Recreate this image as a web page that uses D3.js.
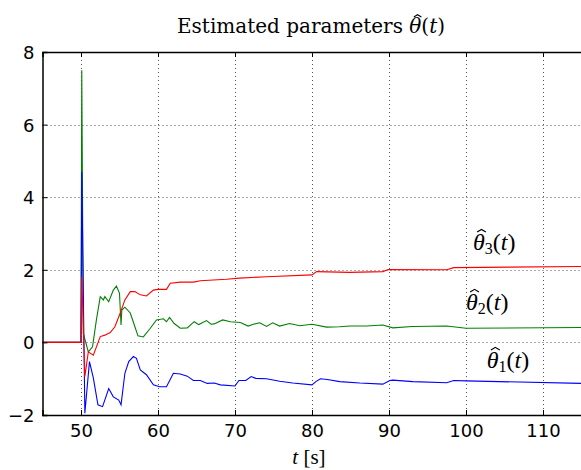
<!DOCTYPE html>
<html><head><meta charset="utf-8">
<script src="https://cdn.jsdelivr.net/npm/d3@7"></script>
<style>body{margin:0;background:#fff;}svg{display:block;}</style>
</head><body>
<script>
// ---- data ----
const xTicks = [50, 60, 70, 80, 90, 100, 110];
const yTicks = [-2, 0, 2, 4, 6, 8];

const t1 = [45,50,50.1,50.5,51.1,51.6,52.2,52.8,53.6,54.2,54.9,55.2,55.7,56.2,56.8,57.2,57.7,58.5,59.4,60.2,61.1,62,62.9,63.8,64.6,65.5,66.4,67.3,68.1,70,70.5,71.4,72.1,72.7,74.1,75.8,77.5,80,80.5,81.1,82,83.6,86.2,89.2,90.1,90.5,93.1,97.5,98.4,100,115];
const theta1 = [0,0,4.7,-1.95,-0.53,-0.98,-1.72,-1.77,-1.27,-1.5,-1.59,-1.72,-0.85,-0.53,-0.39,-0.44,-0.76,-0.89,-1.17,-1.22,-1.22,-0.85,-0.87,-0.93,-1.05,-1.05,-1.13,-1.12,-1.17,-1.2,-1.05,-1.05,-0.94,-0.99,-1.0,-1.07,-1.12,-1.17,-1.08,-1.0,-1.02,-1.08,-1.12,-1.15,-1.05,-1.04,-1.08,-1.11,-1.05,-1.06,-1.13];

const t2 = [45,50,50.1,50.3,50.95,51.5,52,52.5,52.9,53.1,53.6,54.2,54.6,55,55.2,55.3,55.7,56.4,57,57.4,58.1,59,59.8,60.7,61.1,61.5,62.1,62.9,63.8,64.7,65.3,66.3,66.9,67.3,68.4,69.4,70.7,71.7,72.4,73.2,74.1,74.9,75.8,77.1,78.4,80,81.9,83.6,84.9,87.1,89.2,90.5,93,97.5,100,115];
const theta2 = [0,0,7.5,0.25,-0.26,-0.12,0.62,1.26,1.17,1.26,1.12,1.44,1.55,1.35,0.48,0.89,0.97,0.81,0.43,0.18,0.15,0.39,0.62,0.65,0.57,0.69,0.52,0.39,0.4,0.57,0.49,0.6,0.5,0.51,0.62,0.57,0.55,0.45,0.5,0.54,0.44,0.54,0.45,0.52,0.46,0.5,0.42,0.43,0.45,0.45,0.48,0.4,0.44,0.45,0.39,0.41];

const t3 = [45,50,50.1,50.5,50.95,51.6,52.5,53.1,53.8,54.4,55.1,55.7,56.4,57,57.7,58.5,59.4,60,61.1,61.6,62.9,64.6,65.5,67.2,68.9,70.6,74.1,80,80.6,84.9,89.2,89.9,97.5,98.4,115];
const theta3 = [0,0,1.81,-0.94,-0.26,-0.35,0.16,0.2,0.27,0.43,0.81,1.17,1.4,1.4,1.31,1.28,1.44,1.46,1.46,1.63,1.66,1.66,1.7,1.72,1.74,1.77,1.81,1.86,1.95,1.93,1.95,2.01,2.0,2.06,2.09];

const labelSubs = ["3", "2", "1"];
const labelT = [100.9, 100.0, 102.7];
const labelV = [2.545, 0.893, -0.705];

// ---- layout ----
const W = 581, H = 470;
const L = 42.5, R = 581.5, T = 52, B = 415;

const svg = d3.select("body").append("svg").attr("width", W).attr("height", H);

const x = d3.scaleLinear().domain([45, 115]).range([L, R]);
const y = d3.scaleLinear().domain([-2, 8]).range([B, T]);

// grid
const grid = svg.append("g");
grid.selectAll(".gx").data(xTicks).enter().append("line")
  .attr("x1", d => Math.round(x(d)) + 0.5).attr("x2", d => Math.round(x(d)) + 0.5)
  .attr("y1", T).attr("y2", B)
  .attr("stroke", "#555").attr("stroke-width", 1).attr("stroke-dasharray", "1,3");
grid.selectAll(".gy").data(yTicks).enter().append("line")
  .attr("y1", d => Math.round(y(d)) + 0.5).attr("y2", d => Math.round(y(d)) + 0.5)
  .attr("x1", L).attr("x2", R)
  .attr("stroke", "#555").attr("stroke-width", 1).attr("stroke-dasharray", "1,3");

// lines
const line = d3.line().x(d => x(d[0])).y(d => y(d[1]));
const series = [
  {t: t2, v: theta2, c: "#008000"},
  {t: t1, v: theta1, c: "#0000ff"},
  {t: t3, v: theta3, c: "#ff0000"}
];
svg.append("defs").append("clipPath").attr("id", "clip")
  .append("rect").attr("x", L).attr("y", T).attr("width", R - L).attr("height", B - T);
const lg = svg.append("g").attr("clip-path", "url(#clip)");
series.forEach(s => {
  lg.append("path").datum(s.t.map((tt, i) => [tt, s.v[i]]))
    .attr("d", line).attr("fill", "none").attr("stroke", s.c).attr("stroke-width", 1.1);
});

// axes (ticks inward)
const fmt = d => d < 0 ? "\u2212" + Math.abs(d) : String(d);
const xAxis = svg.append("g").attr("transform", `translate(0,${B})`)
  .call(d3.axisBottom(x).tickValues(xTicks).tickSize(-5).tickPadding(9).tickFormat(fmt));
const xAxisTop = svg.append("g").attr("transform", `translate(0,${T})`)
  .call(d3.axisTop(x).tickValues(xTicks).tickSize(-5).tickFormat(""));
const yAxis = svg.append("g").attr("transform", `translate(${L},0)`)
  .call(d3.axisLeft(y).tickValues(yTicks).tickSize(-5).tickPadding(8).tickFormat(fmt));
[xAxis, xAxisTop, yAxis].forEach(a => {
  a.select(".domain").attr("stroke", "#000").attr("stroke-width", 1.5);
  a.selectAll(".tick line").attr("stroke", "#000").attr("stroke-width", 1);
  a.selectAll(".tick text").attr("font-family", "'DejaVu Sans', sans-serif")
    .attr("font-size", 18).attr("fill", "#000");
});
yAxis.selectAll(".tick text").attr("dy", "0.36em");

// helper: hat over a character of a text element
function addHat(textSel, charIndex, lift, size) {
  const node = textSel.node();
  const s = node.getStartPositionOfChar(charIndex);
  const e = node.getEndPositionOfChar(charIndex);
  const cx = (s.x + e.x) / 2 + size * 0.12;
  const top = s.y - lift;
  const hw = size * 0.2, hh = size * 0.12;
  svg.append("path")
    .attr("d", `M${cx - hw},${top} L${cx},${top - hh} L${cx + hw},${top}`)
    .attr("fill", "none").attr("stroke", "#000").attr("stroke-width", size * 0.055);
}

// title
const titleFont = "'DejaVu Serif', serif";
const serif = "'Liberation Serif', 'DejaVu Serif', serif";
const title = svg.append("text").attr("x", 311).attr("y", 33).attr("text-anchor", "middle")
  .attr("font-family", titleFont).attr("font-size", 20).attr("fill", "#000");
title.append("tspan").text("Estimated parameters ");
title.append("tspan").attr("font-style", "italic").text("θ");
title.append("tspan").text("(");
title.append("tspan").attr("font-style", "italic").text("t");
title.append("tspan").text(")");
addHat(title, 21, 16, 19);

// x label
const xl = svg.append("text").attr("x", 309).attr("y", 464).attr("text-anchor", "middle")
  .attr("font-family", serif).attr("font-size", 21).attr("fill", "#000");
xl.append("tspan").attr("font-style", "italic").text("t");
xl.append("tspan").text(" [s]");

// series labels
labelSubs.forEach((sub, i) => {
  const tx = svg.append("text").attr("x", x(labelT[i])).attr("y", y(labelV[i]))
    .attr("font-family", serif).attr("font-size", 24).attr("fill", "#000");
  tx.append("tspan").attr("font-style", "italic").text("θ");
  tx.append("tspan").attr("font-size", 16).attr("dy", 4).text(sub);
  tx.append("tspan").attr("dy", -4).text("(");
  tx.append("tspan").attr("font-style", "italic").text("t");
  tx.append("tspan").text(")");
  addHat(tx, 0, 18, 22);
});
</script>
</body></html>
